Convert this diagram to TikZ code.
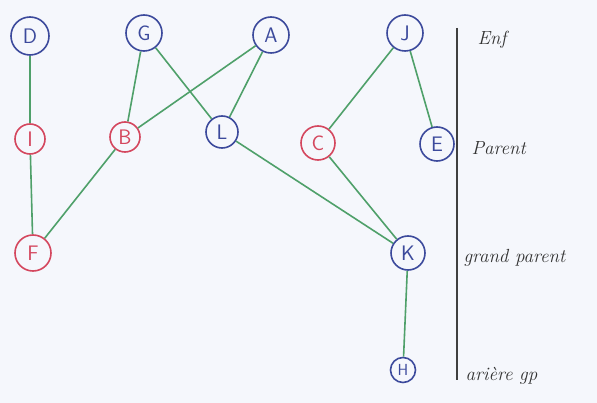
\documentclass[tikz,border=0pt]{standalone}
\begin{document}
\begin{tikzpicture}[x=1pt,y=-1pt,
  bluenode/.style={circle,draw=nodeblue,text=nodeblue,line width=1.6pt,inner sep=0pt,font=\sffamily\fontsize{21}{23}\selectfont},
  rednode/.style={circle,draw=nodered,text=nodered,line width=1.6pt,inner sep=0pt,font=\sffamily\fontsize{21}{23}\selectfont},
  edge/.style={draw=edgegreen,line width=1.6pt},
  lab/.style={anchor=west,font=\itshape\fontsize{19}{21}\selectfont,text=black!80}]
\definecolor{nodeblue}{HTML}{3C4A9C}
\definecolor{nodered}{HTML}{D4475E}
\definecolor{edgegreen}{HTML}{4FA06A}
\definecolor{bg}{HTML}{F5F7FC}
\fill[bg] (0,0) rectangle (597,403);
\useasboundingbox (0,0) rectangle (597,403);
% nodes
\node[bluenode,minimum size=38pt] (D) at (30,36) {D};
\node[bluenode,minimum size=36pt] (G) at (144,33) {G};
\node[bluenode,minimum size=36pt] (A) at (271,35) {A};
\node[bluenode,minimum size=36pt] (J) at (405,33) {J};
\node[rednode,minimum size=30pt] (I) at (30,139) {I};
\node[rednode,minimum size=30pt] (B) at (125,137) {B};
\node[bluenode,minimum size=32pt] (L) at (222,132) {L};
\node[rednode,minimum size=34pt] (C) at (318,143) {C};
\node[bluenode,minimum size=34pt] (E) at (437,144) {E};
\node[rednode,minimum size=36pt] (F) at (33,253) {F};
\node[bluenode,minimum size=34pt] (K) at (408,253) {K};
\node[bluenode,minimum size=25pt,font=\sffamily\fontsize{16}{18}\selectfont] (H) at (403,370) {H};
% edges
\draw[edge] (D) -- (I);
\draw[edge] (I) -- (F);
\draw[edge] (G) -- (B);
\draw[edge] (G) -- (L);
\draw[edge] (A) -- (B);
\draw[edge] (A) -- (L);
\draw[edge] (B) -- (F);
\draw[edge] (L) -- (K);
\draw[edge] (J) -- (C);
\draw[edge] (J) -- (E);
\draw[edge] (C) -- (K);
\draw[edge] (K) -- (H);
% level separator
\coordinate (top) at (457,28);
\coordinate (bot) at (457,380);
\draw[line width=2pt,black!75] (top) -- (bot);
% level labels
\node[lab] (l1) at (474,40) {Enf};
\node[lab] (l2) at (468,148) {Parent};
\node[lab] (l3) at (460,258) {grand parent};
\node[lab] (l4) at (462,376) {arière gp};
\end{tikzpicture}
\end{document}
